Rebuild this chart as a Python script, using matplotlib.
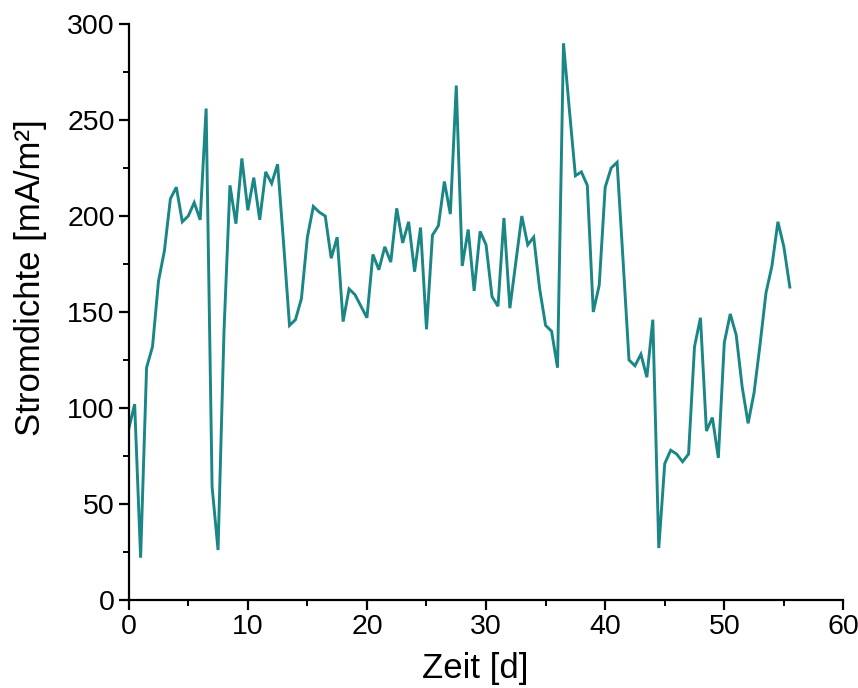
import matplotlib
matplotlib.use("Agg")
import matplotlib.pyplot as plt
from matplotlib.ticker import MultipleLocator

plt.rcParams['font.family'] = ['Liberation Sans', 'DejaVu Sans']

# Zeit in Tagen
zeit_d = [
    0.0, 0.5, 1.0, 1.5, 2.0, 2.5, 3.0, 3.5, 4.0, 4.5,
    5.0, 5.5, 6.0, 6.5, 7.0, 7.5, 8.0, 8.5, 9.0, 9.5,
    10.0, 10.5, 11.0, 11.5, 12.0, 12.5, 13.0, 13.5, 14.0, 14.5,
    15.0, 15.5, 16.0, 16.5, 17.0, 17.5, 18.0, 18.5, 19.0, 19.5,
    20.0, 20.5, 21.0, 21.5, 22.0, 22.5, 23.0, 23.5, 24.0, 24.5,
    25.0, 25.5, 26.0, 26.5, 27.0, 27.5, 28.0, 28.5, 29.0, 29.5,
    30.0, 30.5, 31.0, 31.5, 32.0, 32.5, 33.0, 33.5, 34.0, 34.5,
    35.0, 35.5, 36.0, 36.5, 37.0, 37.5, 38.0, 38.5, 39.0, 39.5,
    40.0, 40.5, 41.0, 41.5, 42.0, 42.5, 43.0, 43.5, 44.0, 44.5,
    45.0, 45.5, 46.0, 46.5, 47.0, 47.5, 48.0, 48.5, 49.0, 49.5,
    50.0, 50.5, 51.0, 51.5, 52.0, 52.5, 53.0, 53.5, 54.0, 54.5,
    55.0, 55.5,
]

# Stromdichte in mA/m²
stromdichte = [
    89, 102, 22, 121, 132, 166, 182, 209, 215, 197,
    200, 207, 198, 256, 59, 26, 140, 216, 196, 230,
    203, 220, 198, 223, 217, 227, 186, 143, 146, 157,
    189, 205, 202, 200, 178, 189, 145, 162, 159, 153,
    147, 180, 172, 184, 176, 204, 186, 197, 171, 194,
    141, 190, 195, 218, 201, 268, 174, 193, 161, 192,
    185, 158, 153, 199, 152, 176, 200, 185, 189, 162,
    143, 140, 121, 290, 255, 221, 223, 216, 150, 164,
    215, 225, 228, 177, 125, 122, 128, 116, 146, 27,
    71, 78, 76, 72, 76, 132, 147, 88, 95, 74,
    134, 149, 138, 111, 92, 108, 133, 160, 174, 197,
    184, 163,
]

x_ticks = [0, 10, 20, 30, 40, 50, 60]
y_ticks = [0, 50, 100, 150, 200, 250, 300]

fig = plt.figure(figsize=(8.58, 6.88), dpi=100)
ax = fig.add_axes([0.150, 0.128, 0.833, 0.837])

ax.plot(zeit_d, stromdichte, color="#1a8686", linewidth=2.1, solid_joinstyle="miter")

ax.set_xlim(0, 60)
ax.set_ylim(0, 300)
ax.set_xticks(x_ticks)
ax.set_yticks(y_ticks)
ax.xaxis.set_minor_locator(MultipleLocator(5))
ax.yaxis.set_minor_locator(MultipleLocator(25))

for side in ("top", "right"):
    ax.spines[side].set_visible(False)
for side in ("left", "bottom"):
    ax.spines[side].set_linewidth(1.6)

ax.tick_params(which="major", direction="out", length=7, width=1.6,
               labelsize=20.5, pad=3, colors="black")
ax.tick_params(which="minor", direction="out", length=4, width=1.4)

ax.set_xlabel("Zeit [d]", fontsize=25)
ax.set_ylabel("Stromdichte [mA/m²]", fontsize=25)
ax.xaxis.set_label_coords(0.485, -0.09)
ax.yaxis.set_label_coords(-0.115, 0.56)

fig.savefig("out.png", dpi=100, facecolor="white")
